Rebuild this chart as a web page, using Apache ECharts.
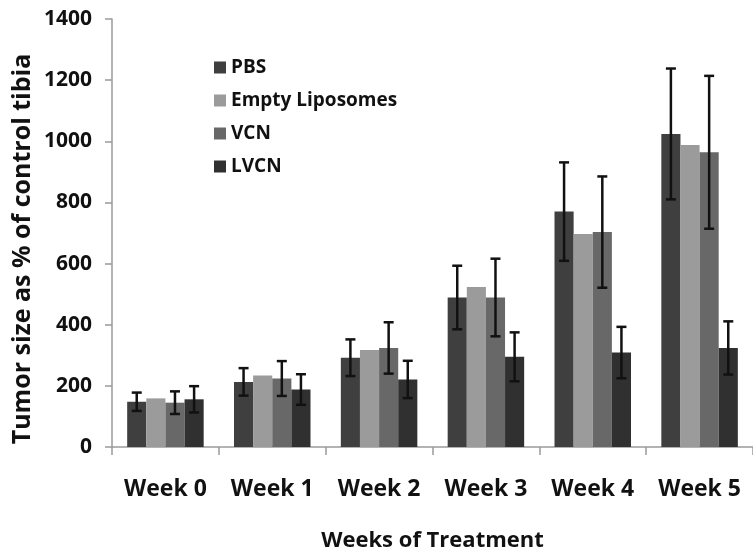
<!DOCTYPE html>
<html>
<head>
<meta charset="utf-8">
<script src="https://cdn.jsdelivr.net/npm/echarts@6/dist/echarts.min.js"></script>
<style>
  html, body { margin: 0; padding: 0; background: #fff; }
  #chart { width: 753px; height: 557px; }
</style>
</head>
<body>
<div id="chart"></div>
<script>
// Tumor size per treatment group over five weeks (mean ± SD)
var weeks = ['Week 0', 'Week 1', 'Week 2', 'Week 3', 'Week 4', 'Week 5'];
var groupNames = ['PBS', 'Empty Liposomes', 'VCN', 'LVCN'];

var pbsMean   = [148, 213, 292, 489, 770, 1024];
var pbsErr    = [30, 45, 60, 104, 161, 214];
var emptyMean = [159, 234, 317, 523, 697, 988];
var vcnMean   = [145, 224, 324, 489, 703, 964];
var vcnErr    = [37, 57, 84, 127, 182, 250];
var lvcnMean  = [156, 188, 221, 295, 309, 324];
var lvcnErr   = [43, 50, 61, 80, 84, 87];

var yTicks = [0, 200, 400, 600, 800, 1000, 1200, 1400];

var yTitle = 'Tumor size as % of control tibia';
var xTitle = 'Weeks of Treatment';

var groupColors = ['#3f3f3f', '#9b9b9b', '#686868', '#303030'];
var FONT = 'Open Sans';
var BAR_FRAC = 0.179;   // bar width as a fraction of the category band

var chart = echarts.init(document.getElementById('chart'), null, { renderer: 'canvas' });

var means = [pbsMean, emptyMean, vcnMean, lvcnMean];
var errs = [pbsErr, null, vcnErr, lvcnErr];

function barSeries(i) {
  return {
    name: groupNames[i],
    type: 'bar',
    data: means[i],
    barWidth: (BAR_FRAC * 100) + '%',
    barGap: '0%',
    itemStyle: { color: groupColors[i] },
    silent: true
  };
}

// Whiskers drawn on top of the bar with the matching group offset
function errorSeries(i) {
  var rows = means[i].map(function (m, k) { return [k, m, errs[i][k]]; });
  return {
    type: 'custom',
    name: groupNames[i] + ' SD',
    data: rows,
    z: 10,
    silent: true,
    encode: { x: 0, y: 1 },
    renderItem: function (params, api) {
      var k = api.value(0), m = api.value(1), e = api.value(2);
      var band = api.size([1, 0])[0];
      var bw = band * BAR_FRAC;
      var center = api.coord([k, m]);
      var x = center[0] + (i - 1.5) * bw;
      var yTop = api.coord([k, m + e])[1];
      var yBot = api.coord([k, m - e])[1];
      var cap = 5;
      var st = { stroke: '#111', lineWidth: 2.5 };
      return {
        type: 'group',
        children: [
          { type: 'line', shape: { x1: x, y1: yTop, x2: x, y2: yBot }, style: st },
          { type: 'line', shape: { x1: x - cap, y1: yTop, x2: x + cap, y2: yTop }, style: st },
          { type: 'line', shape: { x1: x - cap, y1: yBot, x2: x + cap, y2: yBot }, style: st }
        ]
      };
    }
  };
}

var series = [barSeries(0), barSeries(1), barSeries(2), barSeries(3),
              errorSeries(0), errorSeries(2), errorSeries(3)];

var axisGray = '#9a9a9a';

chart.setOption({
  backgroundColor: '#ffffff',
  animation: false,
  grid: { left: 112, right: -7, top: 19, bottom: 110, containLabel: false },
  legend: {
    data: groupNames,
    orient: 'vertical',
    left: 209,
    top: 53,
    itemWidth: 12,
    itemHeight: 12,
    itemGap: 14,
    icon: 'rect',
    textStyle: { fontFamily: FONT, fontWeight: 'bold', fontSize: 19, color: '#111' }
  },
  graphic: [{
    type: 'text',
    rotation: Math.PI / 2,
    x: 23,
    y: 249,
    style: {
      text: yTitle,
      fontFamily: FONT,
      fontWeight: 'bold',
      fontSize: 25,
      fill: '#111',
      align: 'center',
      verticalAlign: 'middle'
    }
  }],
  xAxis: {
    type: 'category',
    data: weeks,
    name: xTitle,
    nameLocation: 'middle',
    nameGap: 83,
    nameTextStyle: { fontFamily: FONT, fontWeight: 'bold', fontSize: 22, color: '#111' },
    axisLine: { lineStyle: { color: axisGray, width: 1.5 } },
    axisTick: { show: true, length: 8, alignWithLabel: false, lineStyle: { color: axisGray, width: 1.5 } },
    axisLabel: { interval: 0, fontFamily: FONT, fontWeight: 'bold', fontSize: 23, color: '#111', margin: 31 }
  },
  yAxis: {
    type: 'value',
    min: yTicks[0],
    max: yTicks[yTicks.length - 1],
    interval: yTicks[1] - yTicks[0],
    axisLine: { show: true, lineStyle: { color: axisGray, width: 1.5 } },
    axisTick: { show: true, length: 7, lineStyle: { color: axisGray, width: 1.5 } },
    splitLine: { show: false },
    axisLabel: {
      fontFamily: FONT, fontWeight: 'bold', fontSize: 21, color: '#111', margin: 20,
      formatter: function (v) { return String(v); }
    }
  },
  series: series
});
</script>
</body>
</html>
